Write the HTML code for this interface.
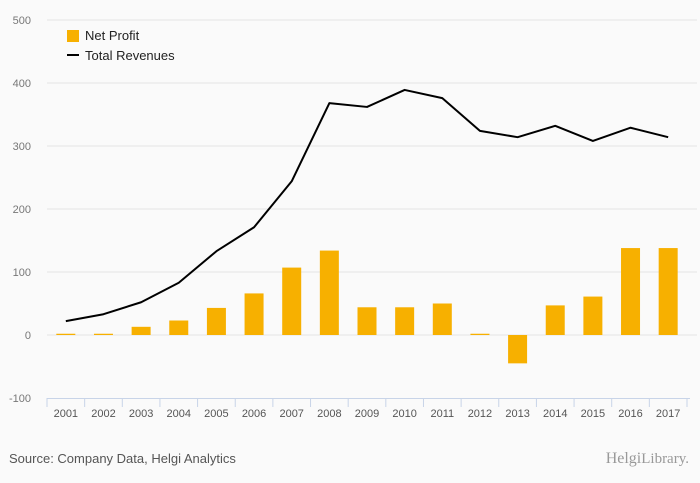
<!DOCTYPE html>
<html><head><meta charset="utf-8"><style>
body{margin:0;background:#fafafa;font-family:"Liberation Sans",sans-serif;}
svg{display:block}
</style></head><body>
<svg id="chart" width="700" height="483">
<rect width="700" height="483" fill="#fafafa"/>
<g id="grid"></g><g id="bars"></g><g id="line"></g><g id="xaxis"></g>
<g>
<rect x="67" y="30" width="12" height="12" fill="#f7b000"/>
<text x="85" y="40" font-size="13" fill="#222">Net Profit</text>
<line x1="67" y1="55" x2="79" y2="55" stroke="#000" stroke-width="2"/>
<text x="85" y="60" font-size="13" fill="#222">Total Revenues</text>
</g>
<text x="9" y="463" font-size="13" fill="#555">Source: Company Data, Helgi Analytics</text>
<text x="689" y="463" font-size="16" fill="#999" text-anchor="end" font-family="Liberation Serif,serif">Helgi<tspan font-size="15">Library.</tspan></text>
</svg>
<script>
const years=["2001","2002","2003","2004","2005","2006","2007","2008","2009","2010","2011","2012","2013","2014","2015","2016","2017"];
const netProfit=[2,2,13,23,43,66,107,134,44,44,50,2,-45,47,61,138,138];
const revenues=[22,33,52,83,133,171,244,368,362,389,376,324,314,332,308,329,314];
const yTicks=[500,400,300,200,100,0,-100];
const NS="http://www.w3.org/2000/svg";
const x0=47,x1=687,band=(x1-x0)/years.length;
const y=v=>335-v*0.63;
const xc=i=>x0+band*(i+0.5);
function mk(t,a,p){const e=document.createElementNS(NS,t);for(const k in a)e.setAttribute(k,a[k]);document.getElementById(p).appendChild(e);return e;}
yTicks.forEach(v=>{
 if(v>-100){const l=mk('line',{x1:x0,x2:697,y1:y(v),y2:y(v),stroke:'#e4e4e4'},'grid');
 
 }
 const t=mk('text',{x:31,y:y(v)+4,'font-size':11,fill:'#777','text-anchor':'end'},'grid');t.textContent=v;
 
 
});
netProfit.forEach((v,i)=>{
 const r=mk('rect',{x:xc(i)-9.5,width:19,y:Math.min(y(v),y(0)),height:Math.abs(y(v)-y(0)),fill:'#f7b000'},'bars');
 
 
});
const p=mk('polyline',{points:revenues.map((v,i)=>xc(i)+','+y(v)).join(' '),fill:'none',stroke:'#000','stroke-width':2,'stroke-linejoin':'round'},'line');


const ax=mk('line',{x1:x0,x2:x1+3,y1:398.5,y2:398.5,stroke:'#c8d4e8'},'xaxis');


for(let i=0;i<=years.length;i++){mk('line',{x1:x0+band*i,x2:x0+band*i,y1:398,y2:407,stroke:'#c8d4e8'},'xaxis');}
years.forEach((yr,i)=>{const t=mk('text',{x:xc(i),y:417,'font-size':11,fill:'#555','text-anchor':'middle'},'xaxis');t.textContent=yr;
 
 });
</script>
</body></html>
